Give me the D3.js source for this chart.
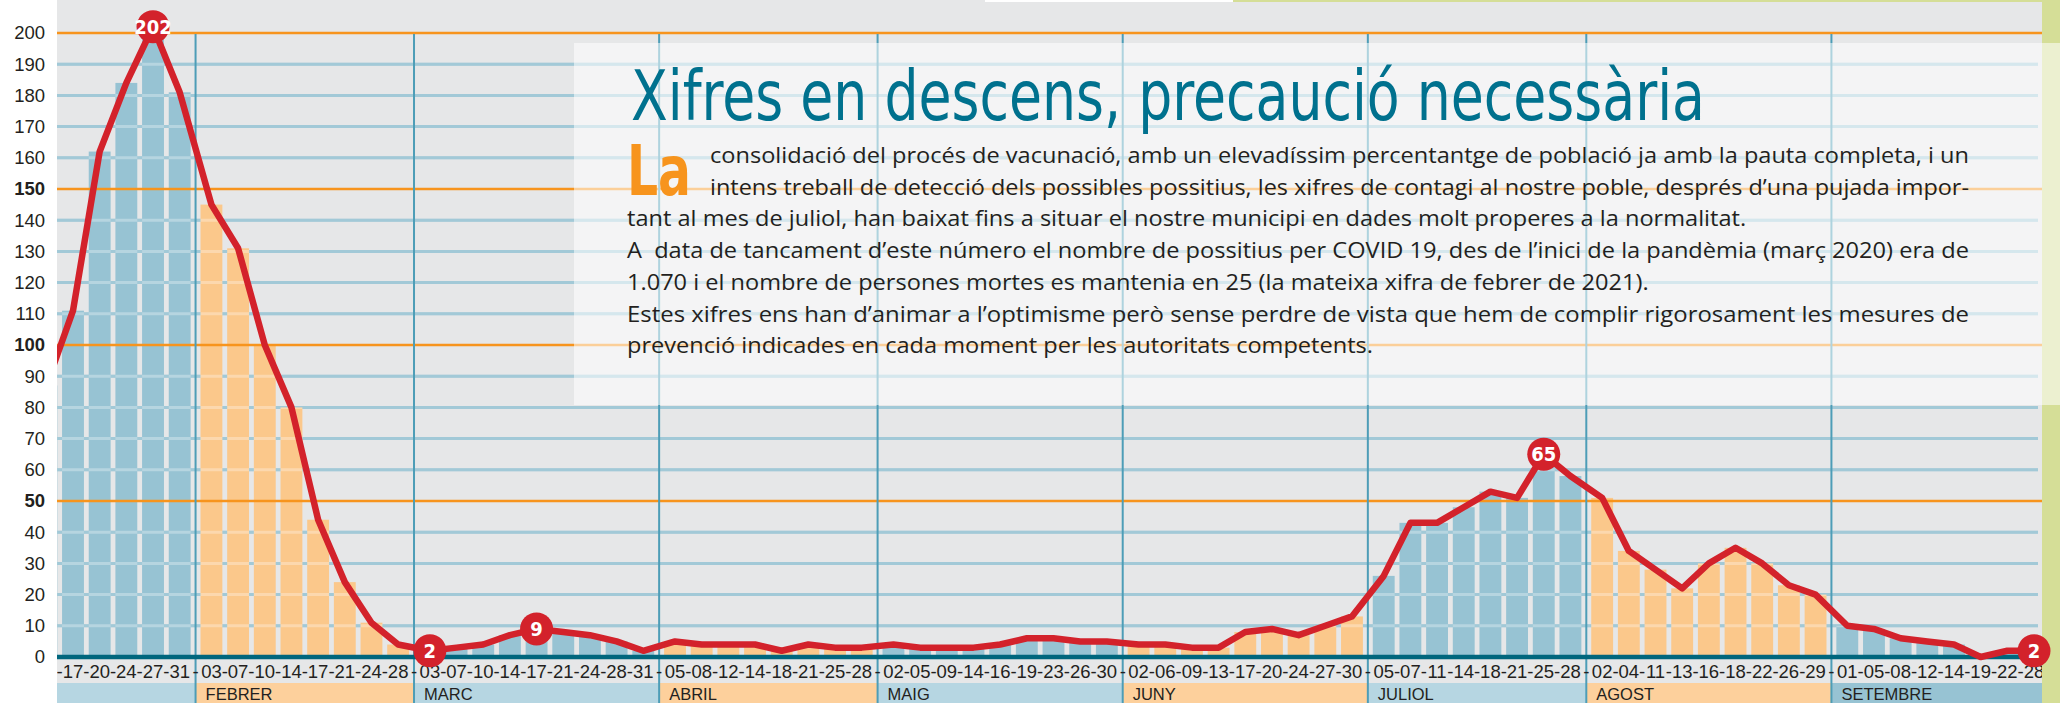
<!DOCTYPE html>
<html>
<head>
<meta charset="utf-8">
<script src="https://cdn.jsdelivr.net/npm/d3@7"></script>
<style>
  html, body { margin: 0; padding: 0; background: #fff; }
  svg { display: block; }
  text { white-space: pre; }
</style>
</head>
<body>
<svg id="grafic" width="2060" height="703"></svg>
<script>
// ================= DADES =================
const mesos = ["GENER", "FEBRER", "MARC", "ABRIL", "MAIG", "JUNY", "JULIOL", "AGOST", "SETEMBRE"];
const diesPerMes = [6, 8, 9, 8, 9, 9, 8, 9, 8];

const dies = [
  "13", "17", "20", "24", "27", "31",
  "03", "07", "10", "14", "17", "21", "24", "28",
  "03", "07", "10", "14", "17", "21", "24", "28", "31",
  "05", "08", "12", "14", "18", "21", "25", "28",
  "02", "05", "09", "14", "16", "19", "23", "26", "30",
  "02", "06", "09", "13", "17", "20", "24", "27", "30",
  "05", "07", "11", "14", "18", "21", "25", "28",
  "02", "04", "11", "13", "16", "18", "22", "26", "29",
  "01", "05", "08", "12", "14", "19", "22", "28"
];

const casos = [
  87, 111, 162, 184, 202, 181,
  145, 131, 100, 80, 44, 24, 11, 4,
  2, 3, 4, 7, 9, 8, 7, 5, 2,
  5, 4, 4, 4, 2, 4, 3, 3,
  4, 3, 3, 3, 4, 6, 6, 5, 5,
  4, 4, 3, 3, 8, 9, 7, 10, 13,
  26, 43, 43, 48, 53, 51, 65, 58,
  51, 34, 28, 22, 30, 35, 30, 23, 20,
  10, 9, 6, 5, 4, 0, 2, 2
];

// punts marcats amb cercle (mes-dia)
const destacats = ["GENER-27", "MARC-03", "MARC-17", "JULIOL-25", "SETEMBRE-28"];

const ticksY = d3.range(0, 201, 10);
const liniesTaronja = [50, 100, 150, 200];
const negreta = [50, 100, 150];

const titol = "Xifres en descens, precaució necessària";
const lletraCapital = "La";
const paragraf = [
  "consolidació del procés de vacunació, amb un elevadíssim percentantge de població ja amb la pauta completa, i un",
  "intens treball de detecció dels possibles possitius, les xifres de contagi al nostre poble, després d’una pujada impor-",
  "tant al mes de juliol, han baixat fins a situar el nostre municipi en dades molt properes a la normalitat.",
  "A  data de tancament d’este número el nombre de possitius per COVID 19, des de l’inici de la pandèmia (març 2020) era de",
  "1.070 i el nombre de persones mortes es mantenia en 25 (la mateixa xifra de febrer de 2021).",
  "Estes xifres ens han d’animar a l’optimisme però sense perdre de vista que hem de complir rigorosament les mesures de",
  "prevenció indicades en cada moment per les autoritats competents."
];
const justificada = [true, true, false, true, false, true, false];

// ================= COLORS =================
const GRIS = "#e6e7e8";
const BLAU_BARRA = "#97c3d3";
const TARONJA_BARRA = "#fbc88b";
const BLAU_BANDA = "#b6d6e2";
const TARONJA_BANDA = "#fdd09c";
const VERD = "#d5de97";
const ROIG = "#d3222b";
const TEXT = "#231f20";

// ================= MIDES =================
const W = 2060, H = 703;
const esq = 57, dre = 2042;
const filaEtiq = 678, bandaTop = 683;
const GAP = 0.19; // espai extra entre mesos (en passos)

const svg = d3.select("#grafic");

// punts
const punts = [];
let k = 0;
mesos.forEach((mes, m) => {
  for (let j = 0; j < diesPerMes[m]; j++) {
    punts.push({ k, m, mes, dia: dies[k], valor: casos[k] });
    k++;
  }
});
const slot = d => d.k + d.m * GAP;

const x = d3.scaleLinear()
  .domain([slot(punts[1]), slot(punts[punts.length - 1])])
  .range([73, 2034]);
const pas = x(1) - x(0);
const ampleBarra = pas * 0.82;

const y = d3.scaleLinear().domain([0, 200]).range([657, 33]);

// separadors entre mesos
const separadors = [];
for (let m = 1; m < mesos.length; m++) {
  const ultim = punts.filter(p => p.m === m - 1).pop();
  const primer = punts.find(p => p.m === m);
  separadors.push((x(slot(ultim)) + x(slot(primer))) / 2);
}
const limitsMes = mesos.map((mes, m) => ({
  mes, m,
  x0: m === 0 ? esq : separadors[m - 1],
  x1: m === mesos.length - 1 ? dre : separadors[m]
}));

svg.append("defs").append("clipPath").attr("id", "clip-plot")
  .append("rect").attr("x", esq).attr("y", 0).attr("width", dre - esq).attr("height", H);

// ================= FONS =================
svg.append("rect").attr("x", esq).attr("y", 0).attr("width", dre - esq).attr("height", bandaTop).attr("fill", GRIS);

svg.append("g").selectAll("rect")
  .data(limitsMes)
  .join("rect")
  .attr("x", d => d.x0).attr("y", bandaTop)
  .attr("width", d => d.x1 - d.x0).attr("height", H - bandaTop)
  .attr("fill", d => d.m === mesos.length - 1 ? BLAU_BARRA : (d.m % 2 === 0 ? BLAU_BANDA : TARONJA_BANDA));

// graella blava (sota les barres)
const graellaBlava = ticksY.filter(v => v > 0 && !liniesTaronja.includes(v));
svg.append("g").selectAll("line")
  .data(graellaBlava)
  .join("line")
  .attr("x1", esq).attr("x2", dre - 4)
  .attr("y1", d => y(d)).attr("y2", d => y(d))
  .attr("stroke", "#7ab2c6").attr("stroke-width", 3);

// ================= BARRES =================
svg.append("g").attr("clip-path", "url(#clip-plot)")
  .selectAll("rect")
  .data(punts)
  .join("rect")
  .attr("x", d => x(slot(d)) - ampleBarra / 2)
  .attr("y", d => y(d.valor))
  .attr("width", ampleBarra)
  .attr("height", d => y(0) - y(d.valor))
  .attr("fill", d => d.m % 2 === 0 ? BLAU_BARRA : TARONJA_BARRA);

// reflex clar de la graella damunt les barres
svg.append("g").selectAll("line")
  .data(graellaBlava)
  .join("line")
  .attr("x1", esq).attr("x2", dre - 4)
  .attr("y1", d => y(d)).attr("y2", d => y(d))
  .attr("stroke", "#fff").attr("stroke-opacity", 0.3).attr("stroke-width", 3);

// línies taronja
svg.append("g").selectAll("line")
  .data(liniesTaronja)
  .join("line")
  .attr("x1", esq).attr("x2", dre)
  .attr("y1", d => y(d)).attr("y2", d => y(d))
  .attr("stroke", "#f7941d").attr("stroke-width", 2.6);

// separadors verticals
svg.append("g").selectAll("line")
  .data(separadors)
  .join("line")
  .attr("x1", d => d).attr("x2", d => d)
  .attr("y1", y(200) + 1).attr("y2", H)
  .attr("stroke", "#4d9db7").attr("stroke-width", 2);

// eix de base
svg.append("line")
  .attr("x1", esq).attr("x2", dre)
  .attr("y1", y(0)).attr("y2", y(0))
  .attr("stroke", "#00667d").attr("stroke-width", 4.5);

// ================= LÍNIA =================
const linia = d3.line().x(d => x(slot(d))).y(d => y(d.valor));
svg.append("path")
  .datum(punts)
  .attr("clip-path", "url(#clip-plot)")
  .attr("d", linia)
  .attr("fill", "none")
  .attr("stroke", ROIG)
  .attr("stroke-width", 6.5)
  .attr("stroke-linejoin", "round");

// ================= ETIQUETES EIX X =================
const gEtiq = svg.append("g").attr("clip-path", "url(#clip-plot)")
  .attr("font-family", "'Liberation Sans', Arial, sans-serif")
  .attr("font-size", 18.5).attr("fill", TEXT);

// només els dies que cauen dins del gràfic
gEtiq.selectAll("text.dia")
  .data(punts.filter(d => x(slot(d)) > esq))
  .join("text")
  .attr("class", "dia")
  .attr("x", d => x(slot(d)))
  .attr("y", filaEtiq)
  .attr("text-anchor", "middle")
  .text(d => d.dia);

gEtiq.selectAll("text.guio")
  .data(punts.slice(1))
  .join("text")
  .attr("class", "guio")
  .attr("x", (d, i) => (x(slot(punts[i])) + x(slot(d))) / 2)
  .attr("y", filaEtiq)
  .attr("text-anchor", "middle")
  .text("-");

// noms dels mesos (el de gener queda fora)
svg.append("g")
  .selectAll("text")
  .data(limitsMes.filter(d => d.m > 0))
  .join("text")
  .attr("x", d => d.x0 + 10)
  .attr("y", 700)
  .attr("font-family", "'Liberation Sans', Arial, sans-serif")
  .attr("font-size", 16.5)
  .attr("fill", TEXT)
  .text(d => d.mes);

// ================= EIX Y =================
const eixY = svg.append("g")
  .attr("transform", `translate(${esq},0)`)
  .call(d3.axisLeft(y).tickValues(ticksY).tickSize(0).tickPadding(12));
eixY.select(".domain").remove();
eixY.selectAll("text")
  .attr("font-family", "'Liberation Sans', Arial, sans-serif")
  .attr("font-size", 18.5)
  .attr("fill", TEXT)
  .attr("font-weight", d => negreta.includes(d) ? "bold" : "normal");

// ================= FRANJA VERDA =================
svg.append("rect").attr("x", dre).attr("y", 0).attr("width", W - dre).attr("height", H).attr("fill", VERD);
svg.append("rect").attr("x", 1233).attr("y", 0).attr("width", W - 1233).attr("height", 2).attr("fill", VERD);
svg.append("rect").attr("x", 985).attr("y", 0).attr("width", 248).attr("height", 2).attr("fill", "#fff");

// ================= QUADRE DE TEXT =================
svg.append("rect")
  .attr("x", 574).attr("y", 43)
  .attr("width", W - 574).attr("height", 362)
  .attr("fill", "#fff").attr("fill-opacity", 0.55);

svg.append("text")
  .attr("x", 631).attr("y", 120)
  .attr("font-family", "'Liberation Sans Narrow', 'DejaVu Sans Condensed', Roboto, sans-serif")
  .attr("font-size", 70)
  .attr("fill", "#00718e")
  .attr("textLength", 1074)
  .attr("lengthAdjust", "spacingAndGlyphs")
  .text(titol);

svg.append("text")
  .attr("x", 627).attr("y", 195)
  .attr("font-family", "'Liberation Sans Narrow', 'DejaVu Sans Condensed', Roboto, sans-serif")
  .attr("font-size", 69)
  .attr("font-weight", "bold")
  .attr("fill", "#f7941d")
  .attr("textLength", 64)
  .attr("lengthAdjust", "spacingAndGlyphs")
  .text(lletraCapital);

const gPar = svg.append("g")
  .attr("font-family", "'Open Sans', 'Liberation Sans', sans-serif")
  .attr("font-size", 21)
  .attr("fill", TEXT);

const linies = gPar.selectAll("text")
  .data(paragraf)
  .join("text")
  .attr("x", (d, i) => i < 2 ? 710 : 627)
  .attr("y", (d, i) => 163 + 31.7 * i)
  .text(d => d);

// calibra l'amplada natural amb l'última línia
const naturals = linies.nodes().map(n => n.getComputedTextLength());
const factor = 746 / naturals[paragraf.length - 1];
linies
  .attr("textLength", (d, i) => justificada[i] ? 1969 - (i < 2 ? 710 : 627) : naturals[i] * factor)
  .attr("lengthAdjust", "spacingAndGlyphs");

// ================= CERCLES =================
const marcats = punts.filter(p => destacats.includes(p.mes + "-" + p.dia));
const gMarca = svg.append("g").selectAll("g")
  .data(marcats)
  .join("g")
  .attr("transform", d => `translate(${x(slot(d))},${y(d.valor)})`);

gMarca.append("circle").attr("r", 16.5).attr("fill", ROIG);
gMarca.append("text")
  .attr("text-anchor", "middle")
  .attr("dy", "0.36em")
  .attr("font-family", "'Liberation Sans Narrow', 'DejaVu Sans Condensed', sans-serif")
  .attr("font-weight", "bold")
  .attr("font-size", 20)
  .attr("fill", "#fff")
  .text(d => d.valor);
</script>
</body>
</html>
